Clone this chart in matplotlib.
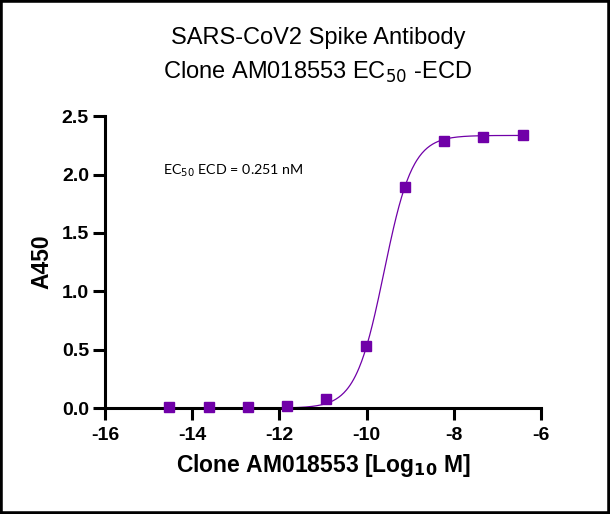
"""Dose-response ELISA curve for clone AM018553 against SARS-CoV2 spike ECD."""
import matplotlib
matplotlib.use("Agg")
import matplotlib.pyplot as plt
import numpy as np

# measured points (log10 molar concentration vs A450)
log_conc = [-14.53, -13.62, -12.72, -11.83, -10.93, -10.01, -9.12, -8.22, -7.33, -6.41]
a450 = [0.01, 0.01, 0.01, 0.02, 0.08, 0.53, 1.895, 2.29, 2.32, 2.34]

# 4PL fit parameters
fit_bottom = 0.0
fit_top = 2.335
fit_log_ec50 = -9.6
fit_hill = 1.33

x_ticks = [-16, -14, -12, -10, -8, -6]
y_ticks = [0.0, 0.5, 1.0, 1.5, 2.0, 2.5]

PURPLE = "#7000A8"


def four_pl(x):
    return fit_bottom + (fit_top - fit_bottom) / (1 + 10 ** ((fit_log_ec50 - x) * fit_hill))


fig = plt.figure(figsize=(6.1, 5.14), dpi=100)
ax = fig.add_axes([0.172, 0.206, 0.715, 0.568])

xs = np.linspace(min(log_conc), max(log_conc), 400)
ax.plot(xs, four_pl(xs), color=PURPLE, linewidth=0.9, clip_on=False)
ax.plot(log_conc, a450, linestyle="none", marker="s", markersize=7.2,
        color=PURPLE, clip_on=False, zorder=3)

ax.set_xlim(-16, -6)
ax.set_ylim(0, 2.5)
ax.set_xticks(x_ticks)
ax.set_yticks(y_ticks)
ax.set_xticklabels([f"{v:d}" for v in x_ticks])
ax.set_yticklabels([f"{v:.1f}" for v in y_ticks])
for side in ("top", "right"):
    ax.spines[side].set_visible(False)
for side in ("left", "bottom"):
    ax.spines[side].set_linewidth(2.2)
ax.tick_params(width=2.2, length=8.5, labelsize=14, pad=3)
ax.tick_params(axis="x", pad=5)
for lab in ax.get_xticklabels() + ax.get_yticklabels():
    lab.set_fontweight("bold")
    lab.set_fontfamily("Liberation Sans")

ax.set_xlabel("Clone AM018553 [Log$_{\\mathbf{10}}$ M]", fontsize=16.5, fontweight="bold",
              fontfamily="Liberation Sans", labelpad=6)
ax.set_ylabel("A450", fontsize=16.5, fontweight="bold", fontfamily="Liberation Sans", labelpad=6)

fig.text(0.521, 0.926, "SARS-CoV2 Spike Antibody", ha="center", va="center",
         fontsize=17, fontfamily="Liberation Sans")
fig.text(0.521, 0.860, "Clone AM018553 EC$_{50}$ -ECD", ha="center", va="center",
         fontsize=17, fontfamily="Liberation Sans")

ax.text(-14.67, 2.03, "EC$_{50}$ ECD = 0.251 nM", fontsize=10.3, fontfamily="Lato", va="center")

# black frame around the whole image
fig.patches.append(plt.Rectangle((0, 0), 1, 1, transform=fig.transFigure, fill=False,
                                 edgecolor="black", linewidth=4))

fig.savefig("out.png", dpi=100)
